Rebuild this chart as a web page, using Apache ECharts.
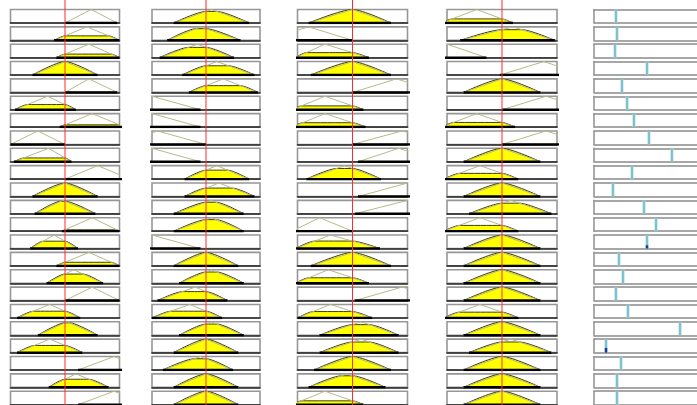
<!DOCTYPE html>
<html>
<head>
<meta charset="utf-8">
<script src="https://cdn.jsdelivr.net/npm/echarts/dist/echarts.min.js"></script>
<style>
  html, body { margin: 0; padding: 0; background: #ffffff; }
  #chart { width: 697px; height: 405px; }
</style>
</head>
<body>
<div id="chart"></div>
<script>
// Crisp input value of each input (normalized range), drawn as the red line
const inputValues = [0.5, 0.5, 0.5, 0.5];

// Triangular membership function used by each rule: [left foot, peak, right foot]
const input1Mf = [
  [0.50, 0.74, 0.98], [0.40, 0.70, 1.00], [0.42, 0.72, 1.00], [0.20, 0.50, 0.80],
  [0.50, 0.72, 0.98], [0.04, 0.34, 0.60], [0.45, 0.75, 1.05], [0.00, 0.25, 0.50],
  [0.03, 0.35, 0.56], [0.50, 0.80, 1.10], [0.20, 0.50, 0.80], [0.22, 0.48, 0.78],
  [0.47, 0.75, 1.00], [0.18, 0.40, 0.62], [0.42, 0.72, 1.00], [0.33, 0.58, 0.85],
  [0.50, 0.75, 1.00], [0.06, 0.36, 0.64], [0.25, 0.52, 0.80], [0.06, 0.36, 0.66],
  [0.62, 0.95, 1.25], [0.35, 0.60, 0.90], [0.62, 0.95, 1.25]
];
const input2Mf = [
  [0.20, 0.55, 0.90], [0.14, 0.45, 0.82], [0.07, 0.42, 0.76], [0.28, 0.60, 0.95],
  [0.34, 0.66, 0.98], [-0.40, 0.00, 0.45], [-0.40, 0.00, 0.45], [-0.30, 0.05, 0.50],
  [-0.40, 0.00, 0.45], [0.30, 0.60, 0.90], [0.30, 0.62, 0.95], [0.20, 0.55, 0.85],
  [0.20, 0.55, 0.85], [-0.40, 0.00, 0.45], [0.20, 0.50, 0.80], [0.25, 0.55, 0.85],
  [0.05, 0.40, 0.70], [0.00, 0.35, 0.65], [0.25, 0.55, 0.85], [0.20, 0.50, 0.80],
  [0.10, 0.45, 0.75], [0.20, 0.50, 0.80], [0.20, 0.50, 0.80]
];
const input3Mf = [
  [0.10, 0.50, 0.85], [-0.30, 0.10, 0.50], [-0.02, 0.25, 0.65], [0.12, 0.50, 0.85],
  [0.50, 0.90, 1.30], [-0.05, 0.25, 0.60], [-0.05, 0.25, 0.62], [0.50, 0.95, 1.40],
  [0.55, 0.92, 1.30], [0.08, 0.43, 0.76], [0.55, 1.00, 1.45], [0.52, 1.00, 1.48],
  [-0.05, 0.20, 0.50], [-0.02, 0.30, 0.75], [0.12, 0.50, 0.85], [-0.02, 0.28, 0.65],
  [0.52, 0.95, 1.40], [0.00, 0.30, 0.68], [0.20, 0.58, 0.92], [0.20, 0.58, 0.92],
  [0.15, 0.50, 0.85], [0.10, 0.45, 0.80], [-0.05, 0.25, 0.60]
];
const input4Mf = [
  [-0.05, 0.27, 0.60], [0.12, 0.60, 0.98], [-0.36, 0.00, 0.36], [0.48, 0.88, 1.25],
  [0.15, 0.50, 0.85], [0.50, 0.90, 1.30], [-0.05, 0.27, 0.62], [0.50, 0.90, 1.30],
  [0.15, 0.50, 0.85], [-0.03, 0.30, 0.65], [0.15, 0.50, 0.85], [0.20, 0.58, 0.95],
  [-0.03, 0.30, 0.65], [0.15, 0.50, 0.85], [0.15, 0.50, 0.85], [0.15, 0.50, 0.85],
  [0.15, 0.50, 0.85], [-0.03, 0.30, 0.65], [0.15, 0.50, 0.85], [0.20, 0.58, 0.95],
  [0.15, 0.50, 0.85], [0.15, 0.50, 0.85], [0.15, 0.50, 0.85]
];

// Constant (Sugeno) output level of each rule, normalized output range
const outputLevel = [
  0.217, 0.227, 0.208, 0.517, 0.275, 0.324, 0.391, 0.536, 0.758, 0.372, 0.188, 0.488,
  0.604, 0.517, 0.246, 0.285, 0.217, 0.333, 0.836, 0.121, 0.266, 0.227, 0.227
];
// Firing strength of each rule (dark marker at the bottom of the output line)
const ruleWeight = [
  0.00, 0.00, 0.00, 0.00, 0.00, 0.00, 0.00, 0.00, 0.00, 0.00, 0.00, 0.00,
  0.00, 0.25, 0.00, 0.00, 0.00, 0.00, 0.00, 0.35, 0.00, 0.00, 0.00
];

const inputMfs = [input1Mf, input2Mf, input3Mf, input4Mf];

// Layout of the rule grid
const rowTop0 = 9.5, rowStep = 17.35, boxH = 13.5;
const colX = [10.5, 152, 297.5, 447, 593.5];
const colW = [109, 108, 110, 110, 103.5];

function membership(mf, x) {
  const [a, b, c] = mf;
  if (x <= a || x >= c) return 0;
  return x < b ? (x - a) / (b - a) : (c - x) / (c - b);
}
function clippedShape(mf, h) {
  const [a, b, c] = mf;
  if (h <= 0) return [[a, 0], [c, 0]];
  return [[a, 0], [a + (b - a) * h, h], [c - (c - b) * h, h], [c, 0]];
}

const grid = [], xAxis = [], yAxis = [], series = [];
const ruleCount = outputLevel.length;

function addInputCell(col, row) {
  const idx = grid.length;
  grid.push({
    left: colX[col], top: rowTop0 + row * rowStep, width: colW[col], height: boxH,
    show: true, backgroundColor: '#ffffff', borderColor: '#979797', borderWidth: 1.6
  });
  xAxis.push({
    gridIndex: idx, type: 'value', min: 0, max: 1,
    axisLine: { show: true, onZero: false, lineStyle: { color: '#262626', width: 1.6 } },
    axisTick: { show: false }, axisLabel: { show: false }, splitLine: { show: false }
  });
  yAxis.push({ gridIndex: idx, type: 'value', min: 0, max: 1, show: false, splitLine: { show: false } });
  return idx;
}

// Output cells run off the right edge: frame drawn from the left axis line
// and the two horizontal split lines only
function addOutputCell(row) {
  const idx = grid.length;
  grid.push({
    left: colX[4], top: rowTop0 + row * rowStep, width: colW[4], height: boxH,
    show: true, backgroundColor: '#ffffff', borderWidth: 0
  });
  xAxis.push({
    gridIndex: idx, type: 'value', min: 0, max: 1, show: false, splitLine: { show: false }
  });
  yAxis.push({
    gridIndex: idx, type: 'value', min: 0, max: 1, interval: 1,
    axisLine: { show: true, lineStyle: { color: '#979797', width: 1.6 } },
    axisTick: { show: false }, axisLabel: { show: false },
    splitLine: { show: true, lineStyle: { color: '#8a8a8a', width: 1.6 } }
  });
  return idx;
}

for (let r = 0; r < ruleCount; r++) {
  for (let c = 0; c < 4; c++) {
    const mf = inputMfs[c][r];
    const g = addInputCell(c, r);
    const h = membership(mf, inputValues[c]);
    series.push({
      type: 'line', xAxisIndex: g, yAxisIndex: g, silent: true, symbol: 'none', z: 3,
      data: [[mf[0], 0], [mf[1], 1], [mf[2], 0]],
      lineStyle: { color: '#b9b98a', width: 1 }
    });
    series.push({
      type: 'line', xAxisIndex: g, yAxisIndex: g, silent: true, symbol: 'none', z: 2,
      data: clippedShape(mf, h), smooth: 0.25,
      areaStyle: { color: '#ffff00', opacity: 1 },
      lineStyle: { color: '#3c3c18', width: 1 }
    });
    series.push({
      type: 'line', xAxisIndex: g, yAxisIndex: g, silent: true, symbol: 'none', z: 4,
      data: [[mf[0], 0], [mf[2], 0]],
      lineStyle: { color: '#000000', width: 2.5 }
    });
  }
  const g = addOutputCell(r);
  const v = outputLevel[r];
  series.push({
    type: 'line', xAxisIndex: g, yAxisIndex: g, silent: true, symbol: 'none', z: 3,
    data: [[v, 0], [v, 1]],
    lineStyle: { color: '#a6dbe2', width: 3 }
  });
  series.push({
    type: 'line', xAxisIndex: g, yAxisIndex: g, silent: true, symbol: 'none', z: 4,
    data: [[v, 0], [v, 1]],
    lineStyle: { color: '#5da8b6', width: 1 }
  });
  if (ruleWeight[r] > 0) {
    series.push({
      type: 'line', xAxisIndex: g, yAxisIndex: g, silent: true, symbol: 'none', z: 5,
      data: [[v, 0], [v, ruleWeight[r]]],
      lineStyle: { color: '#1c3c9c', width: 2.5 }
    });
  }
}

// Red input-value lines running through each input column
for (let c = 0; c < 4; c++) {
  const idx = grid.length;
  grid.push({ left: colX[c], top: 0, width: colW[c], height: 405, show: false });
  xAxis.push({ gridIndex: idx, type: 'value', min: 0, max: 1, show: false });
  yAxis.push({ gridIndex: idx, type: 'value', min: 0, max: 1, show: false });
  series.push({
    type: 'line', xAxisIndex: idx, yAxisIndex: idx, silent: true, symbol: 'none', z: 10,
    data: [[inputValues[c], 0], [inputValues[c], 1]],
    lineStyle: { color: '#ff2a2a', width: 1 }
  });
}

const chart = echarts.init(document.getElementById('chart'), null, { renderer: 'canvas' });
chart.setOption({ animation: false, backgroundColor: '#ffffff', grid, xAxis, yAxis, series });
</script>
</body>
</html>
